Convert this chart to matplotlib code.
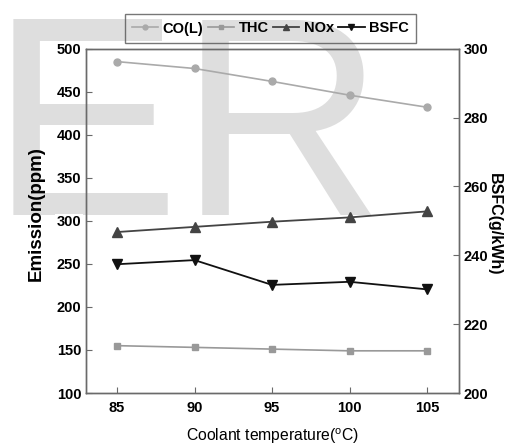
import matplotlib
matplotlib.use("Agg")
import matplotlib.pyplot as plt

plt.rcParams['font.family'] = ['Liberation Sans', 'DejaVu Sans']

temps = [85, 90, 95, 100, 105]
co = [485, 477, 462, 446, 432]
thc = [155, 153, 151, 149, 149]
nox = [287, 293, 299, 304, 311]
bsfc = [237.4, 238.6, 231.4, 232.3, 230.1]

left_ticks = [100, 150, 200, 250, 300, 350, 400, 450, 500]
right_ticks = [200, 220, 240, 260, 280, 300]

fig = plt.figure(figsize=(5.08, 4.48), dpi=100)
# watermark (behind everything)
fig.text(-0.02, 0.52, "ER", fontsize=205, color='#dedede', ha='left', va='baseline',
         zorder=-5, family='Liberation Sans')

ax = fig.add_axes([86/508, 1-393/448, (459-86)/508, (393-48.7)/448])
ax.patch.set_alpha(0)
ax2 = ax.twinx()
ax2.patch.set_alpha(0)

spc = '#6a6a6a'
for a in (ax, ax2):
    for s in a.spines.values():
        s.set_color(spc)
        s.set_linewidth(1.0)

l1, = ax.plot(temps, co, color='#aaaaaa', marker='o', ms=5, lw=1.2, label='CO(L)')
l2, = ax.plot(temps, thc, color='#999999', marker='s', ms=5, lw=1.2, label='THC')
l3, = ax.plot(temps, nox, color='#444444', marker='^', ms=7, lw=1.3, label='NOx')
l4, = ax2.plot(temps, bsfc, color='#111111', marker='v', ms=7, lw=1.3, label='BSFC')

ax.set_xlim(83, 107.06)
ax.set_ylim(100, 500)
ax2.set_ylim(200, 300)
ax.set_xticks(temps)
ax.set_yticks(left_ticks)
ax2.set_yticks(right_ticks)

ax.tick_params(axis='both', direction='in', length=4, color=spc, labelsize=10.5)
ax.tick_params(axis='x', pad=6)
ax2.tick_params(axis='y', direction='in', length=4, color=spc, labelsize=10.5)
for lab in ax.get_xticklabels() + ax.get_yticklabels() + ax2.get_yticklabels():
    lab.set_fontweight('bold')
for lab in ax.get_yticklabels():
    lab.set_bbox(dict(facecolor='white', edgecolor='none', pad=1))

ax.set_ylabel('Emission(ppm)', fontsize=13.5, fontweight='bold')
ax.yaxis.set_label_coords(-0.11, 0.52)
ax2.set_ylabel('BSFC(g/kWh)', fontsize=11.5, fontweight='bold', rotation=270)
ax2.yaxis.set_label_coords(1.115, 0.49)
ax.set_xlabel('Coolant temperature($\\mathregular{^o}$C)', fontsize=11.3, labelpad=8)

leg = fig.legend(handles=[l1, l2, l3, l4], loc='center', bbox_to_anchor=(270.5/508, 1-28.5/448),
                 ncol=4, frameon=True, fancybox=False, handlelength=1.8, handletextpad=0.3,
                 columnspacing=0.3, borderpad=0.5, markerscale=0.7,
                 prop={'weight': 'bold', 'size': 10.5})
leg.get_frame().set_edgecolor('#555555')
leg.get_frame().set_facecolor('none')
leg.get_frame().set_linewidth(1.0)

fig.savefig('out.png', dpi=100)
